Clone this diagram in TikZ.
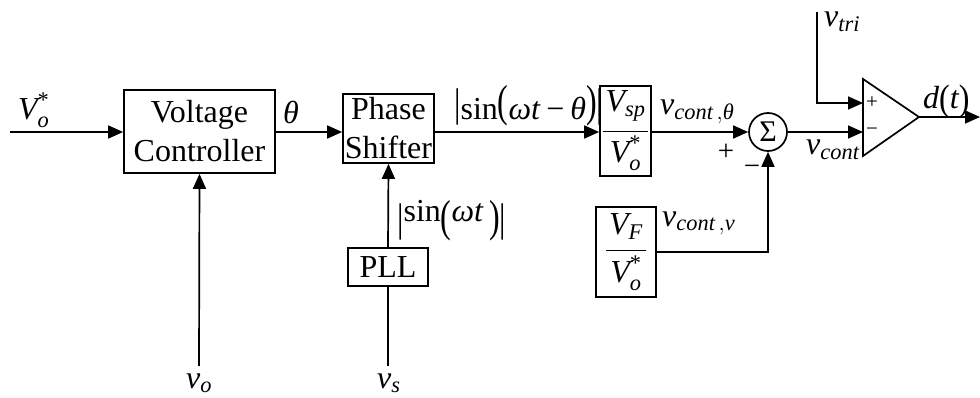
\RequirePackage{fix-cm}
\documentclass[tikz,border=0pt]{standalone}
\usepackage{amsmath}
\usepackage{graphicx}
\usepackage{fontspec}
\setmainfont{Liberation Serif}
\usetikzlibrary{arrows.meta}

% tall delimiter: raise, vertical scale, character
\newcommand{\tallch}[3]{\raisebox{#1}{\scalebox{1}[#2]{#3}}}
% italic variable in the serif text face (also inside sub/superscripts)
\newcommand{\ivar}[1]{\text{\itshape #1}}
% stacked fraction with roomy gaps around the bar
\newcommand{\gapfrac}[4]{\vbox{\halign{\hfil\kern3pt##\kern3pt\hfil\cr
  #1\cr\noalign{\kern#3\hrule height 1.3pt\kern#4}#2\cr}}}

\begin{document}
\begin{tikzpicture}[x=1pt,y=-1pt,
  every node/.style={font=\fontsize{32}{39}\selectfont, inner sep=0pt},
  blk/.style={draw, line width=1.7pt, align=center},
  wire/.style={line width=1.7pt},
  arr/.style={wire, -{Triangle[length=15pt,width=13pt]}},
  lbl/.style={anchor=base west},
  sgn/.style={font=\fontsize{29}{29}\selectfont},
  tsgn/.style={font=\fontsize{21}{21}\selectfont},
]
\useasboundingbox (0,0) rectangle (980,398);

% blocks
\node[blk, minimum width=151pt, minimum height=83pt] (vc) at (199.5,131.5) {Voltage\\Controller};
\node[blk, minimum width=91pt, minimum height=69pt] (ps) at (388.5,128.5) {Phase\\Shifter};
\node[blk, minimum width=80pt, minimum height=38pt] (pll) at (388,267) {PLL};
\node[blk, minimum width=51pt, minimum height=90pt] (vsp) at (625.5,131)
  {\gapfrac{$\ivar{V}_{\ivar{sp}}$}{$\ivar{V}_{\ivar{o}}^{\text{*}}$}{9pt}{4pt}};
\node[blk, minimum width=60pt, minimum height=90pt] (vf) at (626,252)
  {\gapfrac{$\ivar{V}_{\ivar{F}}$}{$\ivar{V}_{\ivar{o}}^{\text{*}}$}{11pt}{4pt}};
\node[circle, draw, line width=1.7pt, minimum size=38pt, font=\fontsize{30}{30}\selectfont] (sum) at (768,132) {Σ};

% comparator
\coordinate (cp) at (863,103);
\coordinate (cm) at (863,132);
\coordinate (cout) at (919,117);
\draw[line width=1.7pt, line join=miter] (863,79) -- (cout) -- (863,156) -- cycle;
\node[tsgn] (tplus) at (872,103) {+};
\node[tsgn] (tminus) at (872,132) {−};

% free ends
\coordinate (m) at (0,132);
\coordinate (vin) at (10,132);
\coordinate (vo) at (199,366);
\coordinate (vs) at (388,366);
\coordinate (vt) at (817,12);
\coordinate (dout) at (980,117);

% connectors
\draw[arr] (vin) -- (vc.west |- m);
\draw[arr] (vc.east |- m) -- (ps.west |- m);
\draw[arr] (ps.east |- m) -- (vsp.west |- m);
\draw[arr] (vsp.east |- m) -- (sum.west);
\draw[arr] (sum.east) -- (cm);
\draw[arr] (vt) |- (cp);
\draw[arr] (cout) -- (dout);
\draw[arr] (vo) -- (vc.south);
\draw[wire] (vs) -- (pll.south);
\draw[arr] (pll.north) -- (ps.south);
\draw[arr] (vf.east) -| (sum.south);

% labels
\node[lbl] (lvo) at (18,120) {$\ivar{V}_{\ivar{o}}^{\text{*}}$};
\node[lbl] (lth) at (283,124) {\itshape θ};
\node[lbl] (lsin) at (397,222)
  {\tallch{-0.29em}{1.25}{|}sin\tallch{-0.3em}{1.4}{(}\textit{ωt}\,\tallch{-0.3em}{1.4}{)}\tallch{-0.29em}{1.25}{|}};
\node[lbl] (lsinth) at (454,120)
  {\tallch{0.12em}{1.25}{|}sin\tallch{0.12em}{1.4}{(}\textit{ωt}\hspace{0.18em}−\hspace{0.18em}\textit{θ}\tallch{0.12em}{1.4}{)}\tallch{0.12em}{1.25}{|}};
\node[lbl] (lct) at (660,115) {$\ivar{v}_{\ivar{cont}\,,\ivar{θ}}$};
\node[lbl] (lcv) at (662,226) {$\ivar{v}_{\ivar{cont}\,,\ivar{v}}$};
\node[lbl] (lvc) at (806,155) {$\ivar{v}_{\ivar{cont}}$};
\node[lbl] (ltri) at (824,27) {$\ivar{v}_{\ivar{tri}}$};
\node[lbl] (ld) at (923,109) {\itshape d\tallch{-0.04em}{1.15}{\upshape(}t\tallch{-0.04em}{1.15}{\upshape)}};
\node[sgn] (lplus) at (726,152) {+};
\node[sgn] (lminus) at (752,170) {−};
\node[lbl] (lvob) at (186,388) {$\ivar{v}_{\ivar{o}}$};
\node[lbl] (lvs) at (377,388) {$\ivar{v}_{\ivar{s}}$};
\end{tikzpicture}
\end{document}
